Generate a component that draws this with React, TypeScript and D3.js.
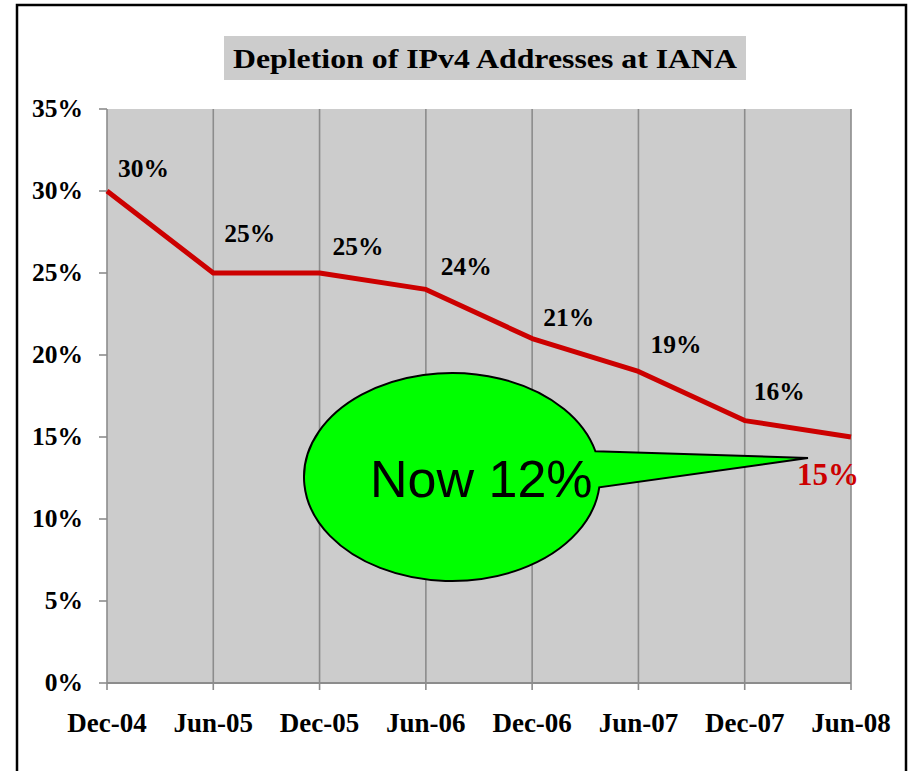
import React from "react";
import * as d3 from "d3";

const categories = ["Dec-04", "Jun-05", "Dec-05", "Jun-06", "Dec-06", "Jun-07", "Dec-07", "Jun-08"];
const values = [30, 25, 25, 24, 21, 19, 16, 15];
const yTicks = [0, 5, 10, 15, 20, 25, 30, 35];
const title = "Depletion of IPv4 Addresses at IANA";
const calloutText = "Now 12%";
// label offsets (pixels) relative to each point
const labelDx = [11, 11, 13, 15, 11, 12, 9, -54];
const labelDy = [-14, -31, -18, -14, -13, -18, -21, 48];

export default function App() {
  const W = 910, H = 771;
  const left = 107, right = 851, top = 109, bottom = 683;
  const x = d3.scalePoint<string>().domain(categories).range([left, right]);
  const y = d3.scaleLinear().domain([0, 35]).range([bottom, top]);
  const line = d3.line<number>().x((_, i) => x(categories[i])!).y(d => y(d));
  const font = "'Liberation Serif', 'Times New Roman', serif";
  const gray = "#8c8c8c";
  const last = values.length - 1;
  // callout geometry
  const cx = 452, cy = 477, rx = 148, ry = 104;
  const tipX = x(categories[last])! - 43, tipY = y(values[last]) + 21;
  return (
    <svg width={W} height={H} style={{ position: "absolute", left: 0, top: 0, background: "#fff" }}>
      <rect x={17} y={5} width={889} height={800} fill="#fff" stroke="#000" strokeWidth={2.5} />
      <rect x={224} y={36} width={522} height={44} fill="#cccccc" />
      <text x={233} y={68} textLength={504} lengthAdjust="spacingAndGlyphs" fontFamily={font} fontWeight="bold" fontSize={28}>{title}</text>
      <rect x={left} y={top} width={right - left} height={bottom - top} fill="#cccccc" />
      {categories.map((c, i) => (
        <line key={c} x1={x(c)} x2={x(c)} y1={top} y2={bottom + 7} stroke={gray} strokeWidth={1.6} />
      ))}
      {yTicks.map(t => (
        <g key={t}>
          <line x1={left - 8} x2={left} y1={y(t)} y2={y(t)} stroke={gray} strokeWidth={1.6} />
          <text x={83} y={y(t) + 8} textAnchor="end" fontFamily={font} fontWeight="bold" fontSize={25.5}>{t}%</text>
        </g>
      ))}
      <line x1={left} x2={right} y1={bottom} y2={bottom} stroke={gray} strokeWidth={2} />
      {categories.map(c => (
        <text key={c} x={x(c)} y={732} textAnchor="middle" fontFamily={font} fontWeight="bold" fontSize={27}>{c}</text>
      ))}
      <path d={line(values) || ""} fill="none" stroke="#cc0000" strokeWidth={5} strokeLinejoin="round" />
      {values.map((v, i) => (
        i === last ? (
          <text key={i} x={x(categories[i])! + labelDx[i]} y={y(v) + labelDy[i]} fontFamily={font} fontWeight="bold" fontSize={31} fill="#cc0000">{v}%</text>
        ) : (
          <text key={i} x={x(categories[i])! + labelDx[i]} y={y(v) + labelDy[i]} fontFamily={font} fontWeight="bold" fontSize={25.5}>{v}%</text>
        )
      ))}
      <path
        d={`M ${cx + rx * Math.cos(-0.25)} ${cy + ry * Math.sin(-0.25)} L ${tipX} ${tipY} L ${cx + rx * Math.cos(0.1)} ${cy + ry * Math.sin(0.1)} A ${rx} ${ry} 0 1 1 ${cx + rx * Math.cos(-0.25)} ${cy + ry * Math.sin(-0.25)} Z`}
        fill="#00ff00" stroke="#000" strokeWidth={2} strokeLinejoin="miter"
      />
      <text x={370} y={497} fontFamily="'Liberation Sans', Arial, sans-serif" fontSize={52}>{calloutText}</text>
    </svg>
  );
}
